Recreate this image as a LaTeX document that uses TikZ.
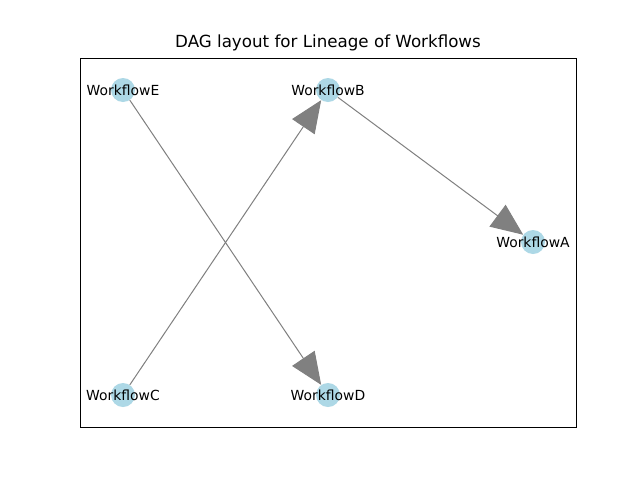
\documentclass[tikz,border=0pt]{standalone}
\usepackage{fontspec}
\setmainfont{DejaVu Sans}
\usetikzlibrary{arrows.meta}
\tikzset{
  wf/.style={circle, fill=lightblue, minimum size=24pt, inner sep=0pt},
  lbl/.style={font=\fontsize{13.9}{16}\selectfont, text=black, inner sep=0pt},
  edge/.style={draw=gray, line width=1pt, -{Triangle[length=32pt,width=27pt]}, shorten >=0pt}
}
\definecolor{lightblue}{HTML}{ADD8E6}
\definecolor{gray}{HTML}{808080}
\begin{document}
\begin{tikzpicture}[x=1pt,y=-1pt]
\useasboundingbox (0,0) rectangle (640,480);
\fill[white] (0,0) rectangle (640,480);
\draw[black, line width=0.8pt] (80,58) rectangle (576,427);
\node[font=\fontsize{16.7}{20}\selectfont] (title) at (328,43) {DAG layout for Lineage of Workflows};
\node[wf] (E) at (123,90) {};
\node[wf] (B) at (328,90) {};
\node[wf] (A) at (533,242) {};
\node[wf] (C) at (123,395) {};
\node[wf] (D) at (328,395) {};
\draw[edge] (E) -- (D);
\draw[edge] (C) -- (B);
\draw[edge] (B) -- (A);
\node[lbl] (tE) at (123,90) {WorkflowE};
\node[lbl] (tB) at (328,90) {WorkflowB};
\node[lbl] (tA) at (533,242) {WorkflowA};
\node[lbl] (tC) at (123,395) {WorkflowC};
\node[lbl] (tD) at (328,395) {WorkflowD};
\end{tikzpicture}
\end{document}
